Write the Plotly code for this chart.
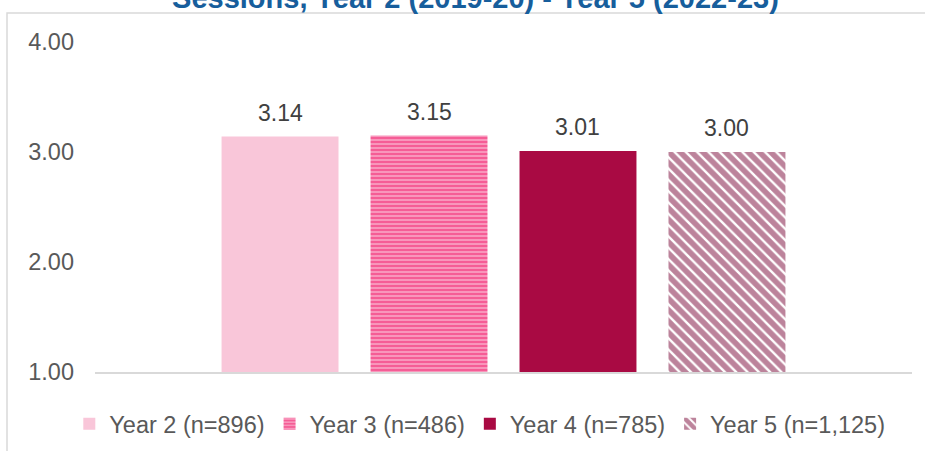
import plotly.graph_objects as go

# ---- data ----
series_names = ["Year 2 (n=896)", "Year 3 (n=486)", "Year 4 (n=785)", "Year 5 (n=1,125)"]
values = [3.14, 3.15, 3.01, 3.00]
y_ticks = [1, 2, 3, 4]
title_text = "Sessions, Year 2 (2019-20) - Year 5 (2022-23)"

# ---- styles ----
colors = ["#F9C6D9", "#F55D96", "#A90A43", "#8A0A3B"]
patterns = [
    dict(shape=""),
    dict(shape="-", bgcolor="#F55D96", fgcolor="#FFFFFF", size=4, solidity=0.35, fillmode="overlay"),
    dict(shape=""),
    dict(shape="\\", bgcolor="#FFFFFF", fgcolor="#7A0837", size=8, solidity=0.7, fillmode="overlay"),
]
FONT = "Arial, Liberation Sans, sans-serif"
FS = 23.5

fig = go.Figure()
for name, v, c, p in zip(series_names, values, colors, patterns):
    marker = dict(color=c, line=dict(width=0))
    if p["shape"]:
        marker["pattern"] = p
    fig.add_trace(go.Bar(x=[name], y=[v], name=name, marker=marker, width=0.785,
                         hoverinfo="x+y"))

for name, v in zip(series_names, values):
    fig.add_annotation(x=name, y=v, text=f"{v:.2f}", showarrow=False,
                       yanchor="middle", yshift=24,
                       font=dict(family=FONT, size=23, color="#404040"))

# outer chart border (light gray); plot area spans y 42..372 px
fig.add_shape(type="rect", xref="paper", yref="paper", x0=-0.1077, x1=1.3, y0=-0.5,
              y1=(372 - 13) / 330, line=dict(color="#D9D9D9", width=1.5),
              fillcolor="rgba(0,0,0,0)", layer="below")

fig.update_layout(
    width=925, height=451,
    margin=dict(l=95, r=13, t=42, b=79, autoexpand=False),
    paper_bgcolor="white", plot_bgcolor="white",
    barmode="overlay",
    title=dict(text=f"<b>{title_text}</b>", x=0.514, xref="container", xanchor="center",
               y=1 - 8 / 451, yref="container", yanchor="bottom",
               font=dict(family=FONT, size=29, color="#175E9C")),
    font=dict(family=FONT, size=FS, color="#595959"),
    showlegend=True,
    legend=dict(orientation="h", x=0.471, xanchor="center",
                yref="container", y=1 - 424 / 451, yanchor="middle",
                font=dict(family=FONT, size=FS, color="#595959"), traceorder="normal"),
    xaxis=dict(type="category", range=[-1.242, 3 + 1.242], showticklabels=False, automargin=False,
               showgrid=False, zeroline=False, showline=True, linecolor="#D9D9D9", linewidth=1.5,
               ticks=""),
    yaxis=dict(range=[1, 4], tickvals=y_ticks, tickformat=".2f", showgrid=False, automargin=False,
               zeroline=False, showline=False, ticklabelstandoff=20,
               tickfont=dict(family=FONT, size=FS, color="#595959")),
)

fig.write_html("out.html", config={"displayModeBar": False},
               post_script="document.body.style.margin='0';document.body.style.overflow='hidden';")
